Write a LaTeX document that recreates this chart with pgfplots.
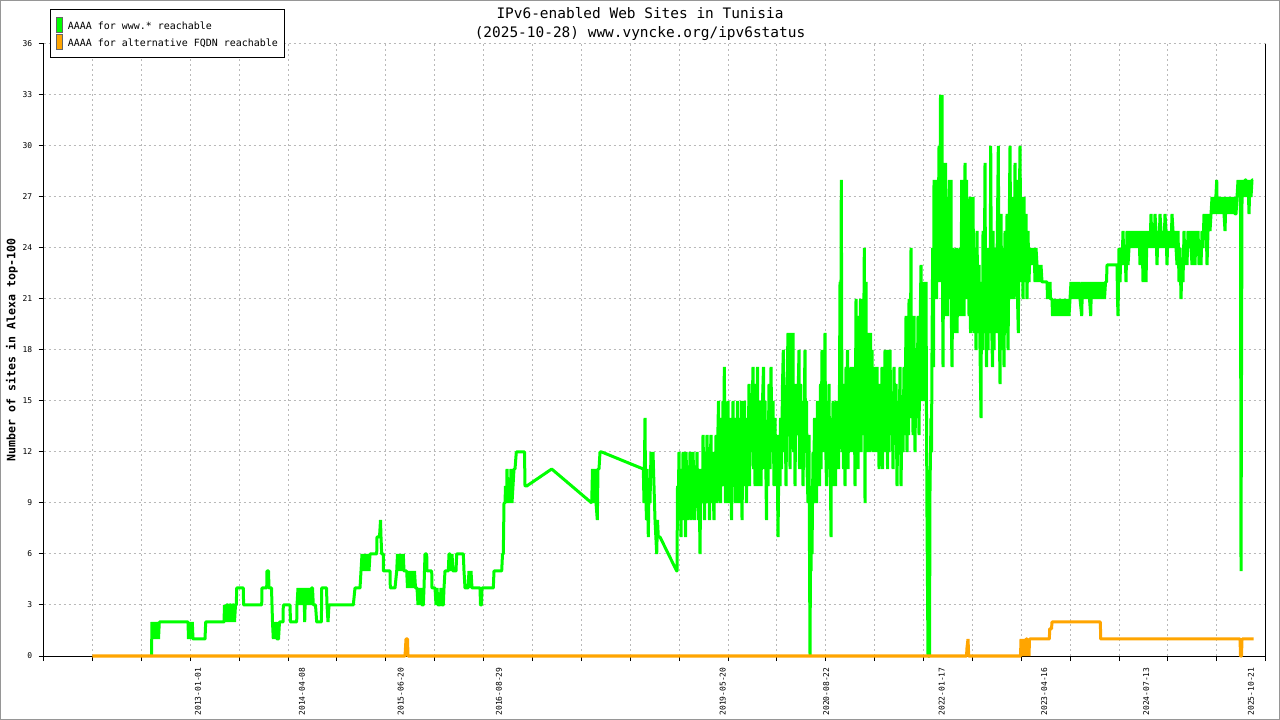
\documentclass[border=0pt]{standalone}
\usepackage{fontspec}
\setmonofont{DejaVu Sans Mono}
\usepackage{pgfplots}
\pgfplotsset{compat=1.18}
\definecolor{lgreen}{RGB}{0,255,0}
\definecolor{lorange}{RGB}{255,165,0}
\definecolor{framegray}{RGB}{150,150,150}
\definecolor{gridgray}{RGB}{185,185,185}
\begin{document}
\begin{tikzpicture}
\useasboundingbox (0,0) rectangle (1280bp,720bp);
\fill[white] (0,0) rectangle (1280bp,720bp);
\draw[framegray, line width=1bp] (0.5bp,0.5bp) rectangle (1279.5bp,719.5bp);
\begin{axis}[
  at={(43.7bp,64bp)}, anchor=south west,
  scale only axis, width=1222bp, height=612bp,
  xmin=43.7, xmax=1265.7, ymin=0, ymax=36,
  clip=false,
  axis x line*=bottom, axis y line*=left,
  axis line style={black, line width=1bp},
  xtick={43.7,92.58,141.46,190.34,239.22,288.1,336.98,385.86,434.74,483.62,532.5,581.38,630.26,679.14,728.02,776.9,825.78,874.66,923.54,972.42,1021.3,1070.18,1119.06,1167.94,1216.82,1265.7},
  xticklabels={},
  ytick={0,3,...,36},
  tick align=outside, major tick length=5bp,
  tick style={black, line width=1bp},
  grid=major,
  major grid style={gridgray, dash pattern=on 2bp off 3bp, line width=1bp},
  /pgf/number format/assume math mode=true,
  ticklabel style={font=\ttfamily\fontsize{8}{9}\selectfont},
  yticklabel style={xshift=-3bp},
  extra x ticks={198,302,400.7,498.9,722.7,826.3,941.8,1044.1,1146.3,1251},
  extra x tick labels={2013-01-01,2014-04-08,2015-06-20,2016-08-29,2019-05-20,2020-08-22,2022-01-17,2023-04-16,2024-07-13,2025-10-21},
  extra x tick style={grid=none, major tick length=0pt, tick label style={yshift=-8bp, rotate=90, anchor=east}},
  ylabel={Number of sites in Alexa top-100},
  every axis y label/.style={at={(axis description cs:-0.02594,0.5)}, rotate=90, anchor=center, font=\ttfamily\bfseries\fontsize{11.6}{13}\selectfont},
]
\addplot[lgreen, line width=3bp, line join=bevel] coordinates {
(151.5,0)(152,2)(152.5,1)(153.3,2)(154,1)(154.7,2)(155.5,1)(156.3,2)(157,1)(157.7,2)(158.5,1)(159.3,2)(160,2)(188,2)(188.5,1)(189.3,2)(190,1)(190.7,2)(191.5,1)(192.3,2)(193,1)(205,1)(205.7,2)(224,2)(224.5,3)(225.5,2)(226.5,3)(228,3)(228.5,2)(229.5,3)(231,3)(231.5,2)(232.5,3)(234,3)(234.5,2)(235.5,3)(236.3,3)(236.7,4)(243.3,4)(243.6,3)(261.7,3)(262,4)(266.7,4)(267,5)(268.5,5)(269,4)(271.5,4)(272,3)(272.5,2)(273.3,1)(274,2)(275,1)(276,2)(277,1)(278.5,1)(279.5,2)(283,2)(283.3,3)(290,3)(290.5,2)(296.7,2)(297,3)(298,4)(299,3)(300,4)(301,3)(302,4)(303,3)(304,4)(304.7,2)(305.5,4)(306.5,3)(307.5,4)(308.5,3)(309.5,4)(310.5,3)(311.5,4)(312.5,4)(313.3,3)(315.5,3)(316.7,2)(321.4,2)(321.7,4)(326.5,4)(327,3)(328,2)(329,3)(353.3,3)(355,4)(360,4)(361,5)(362,6)(363,5)(364,6)(365,5)(366,6)(367,5)(368,6)(369,5)(370,6)(376.7,6)(377,7)(379.5,7)(380.5,8)(381,7)(381.7,6)(383.3,6)(383.5,5)(390,5)(390.3,4)(395,4)(396.7,5)(397.5,6)(398.5,5)(399.5,6)(400.5,5)(401.5,6)(402.5,5)(403.3,6)(404,5)(406.7,5)(407.5,4)(408.5,5)(409.5,4)(410.5,5)(411.5,4)(412.5,5)(413.5,4)(414.5,5)(415.5,4)(417,4)(418,3)(419,4)(420,3)(421,4)(422,3)(423.3,3)(424,4)(425,6)(426.7,6)(427,5)(431.7,5)(432,4)(435,4)(436,3)(437,4)(438,3)(440,3)(441,4)(442,3)(443.3,3)(444,4)(445,5)(448.3,5)(449,6)(450,6)(451,5)(452,6)(453,5)(456,5)(456.7,6)(463.3,6)(464,5)(465,4)(468,4)(469,5)(470,4)(471,5)(472,4)(480,4)(480.5,3)(481.5,3)(482,4)(493.3,4)(494,5)(501.7,5)(502.5,6)(503.3,6)(504,9)(505,9)(505.5,10)(506.5,9)(507,11)(508,9)(509,10)(510,9)(511,11)(512,9)(513,10)(514,11)(515,11)(516.3,12)(524.5,12)(525,10)(526.7,10)(551.7,11)(591.7,9)(592.5,11)(593,9)(594,10)(595,11)(596,9)(597.3,8)(598,11)(599,11)(600,12)(601.7,12)(643.3,11)(644,9)(645,14)(645.5,10)(646.5,8)(647,11)(648.3,7)(649,10)(650,9)(651,12)(652,11)(653,12)(653.5,11)(655,8)(656.7,6)(657.5,8)(658.3,7)(660,7)(676.7,5)
(677,5)(677.5,10)(678,8)(679,12)(679.5,9)(680,11)(681,7)(681.5,10)(682.5,8)(683,12)(684,9)(684.5,11)(685.5,7)(686,12)(687,10)(687.5,8)(688.5,11)(689,9)(690,12)(691,8)(691.5,11)(692.5,9)(693,12)(694,10)(694.5,8)(695.5,11)(696,9)(697,12)(697.5,10)(698.5,8)(699,11)(700,6)(700.5,9)(701.5,11)
(702.5,9)(703,13)(704,10)(704.5,8)(705.5,12)(706,9)(707,13)(708,10)(708.5,12)(709.5,8)(710,11)(711,13)(711.5,9)(712.5,12)(713,10)(714,8)(714.5,12)(715.5,10)(716,13)(717,9)
(717.5,12)(718.5,15)(719,10)(720,14)(720.5,9)(721.5,13)(722,11)(723,15)(723.5,10)(724.3,17)(725,12)(725.5,9)(726.5,14)(727,11)
(728,15)(728.5,9)(729.5,13)(730,10)(731,14)(731.5,8)(732.5,12)(733,15)(734,10)(734.5,13)(735.5,9)(736,14)(737,11)(737.5,15)(738.5,9)(739,12)(740,14)(740.5,10)(741.5,15)(742,8)(743,13)(743.5,11)(744.5,15)(745,10)(746,12)(746.5,9)(747.5,14)
(748,11)(749,16)(749.5,10)(750.5,15)(751,12)(752,14)(753,17)(753.5,11)(754.5,15)(755,10)(756,16)(756.5,12)(757.5,17)(758,10)(759,14)(759.5,11)
(760.5,15)(761,10)(762,14)(763.5,17)(764,11)(765,15)(766.5,8)(767,13)(768,10)(769,16)(770,11)(771,17)(772,12)(773,15)(774,10)(775,14)(776,10)(777,13)(778,7)(779,12)(780,10)
(780.5,14)(781.5,11)(782.5,16)(783.3,18)(784,12)(785,15)(786,10)(787,16)(788,19)(788.5,13)(789.5,17)(790,11)(791,19)(792,14)(793,19)(793.5,12)(794.5,15)(795,10)(796,16)(797,13)(798,15)(799,18)(799.5,11)(800.5,16)(801,13)(802,15)(803,10)(804,14)(805,18)(805.5,12)(806.5,15)(807,11)
(808,9)(809,13)(809.5,6)(810,0)(810.5,6)(811,5)(811.5,10)(812,6)(813,12)
(813.5,9)(814.5,14)(815,10)(816,13)(816.5,9)(817.5,15)(818,11)(819,12)(819.5,10)(820.5,16)(821,11)(822,18)(823,12)(824,15)(825,19)(825.5,13)(826.5,10)(827,15)(828,11)(829,16)(829.5,12)(830.5,10)(831,7)(831.5,14)(832.5,10)(833,15)(834,11)(835,14)(835.5,10)(836.5,15)(837,12)(838,14)(838.5,11)(839.5,16)(840,22)
(840.5,13)(841.3,28)(842,12)(842.5,15)
(843.5,11)(844,16)(845,10)(846,17)(846.5,12)(847.5,18)(848,11)(849,15)(850,12)(851,17)(851.5,13)(852.5,16)(853,12)(854,17)(855,10)(856,21)(856.5,13)(857.5,20)(858,11)(859,18)(859.5,14)(860.5,21)(861,12)(862,19)(863,13)(864.3,24)(865,9)(866,22)(866.5,12)(867.5,19)(868,14)(869,17)(869.5,12)(870.5,19)(871,13)(872,18)(873,12)(874,17)(875,14)(876,12)(877,17)
(877.5,12)(878.5,16)(879,11)(880,15)(881,12)(882,17)(882.5,11)(883.5,16)(884,12)(885,18)(886,13)(887,18)(887.5,11)(888.5,16)(889,12)(890,18)(891,13)(892,15)(893,11)(894,17)(895,13)(896,16)(897,10)(898,15)(899,12)(900,17)(901,10)(902,14)(903,12)(904,17)(905,13)(906,20)(907,12)
(907.5,17)(908.5,13)(909,21)(910,14)(911,24)(911.5,15)(912.5,19)(913,13)(914,20)(915,12)(916,18)(917,14)(918,20)(919,13)(920,19)(921,23)(921.5,15)(922.5,20)(923,15)(924,22)(925,17)(926,22)(926.5,14)(927,8)
(928,0)(929.5,0)(930,10)(931,14)(931.5,12)(932,18)
(932.7,24)(933.5,17)(934,28)(935,22)(936,28)(936.5,21)(937.5,26)(938,23)(939,30)(939.5,22)(940.5,33)(941,25)(942,33)(942.5,22)(943,17)(944,29)(944.5,20)(945.5,29)(946,21)(947,27)(947.5,20)(948.5,26)(949.5,28)(950,21)(951,28)(951.5,19)(952,17)(953,24)(954,19)(955,23)(955.5,20)(956.5,24)(957,19)(958,23)(959,20)(960,24)(961,20)(961.7,28)(962.5,21)(963.5,26)(964,20)(965,29)(965.5,22)(966.5,28)(967,21)(968,26)(969,20)(970,27)(970.5,19)(971.5,25)(972,20)(973,27)(974,19)(975,24)(976,18)(977,25)(978,19)(979,23)(980,18)(981,14)(981.5,22)(982.5,18)(983,25)(984,19)(985,29)(985.5,21)(986.5,17)(987,24)(988,18)(989,23)(990,19)(990.7,30)(991.5,20)(992.5,17)(993,25)(994,18)(995,24)(996,19)(997,23)(998.3,30)(999,21)(1000,16)(1001,26)(1002,18)(1003,24)(1004,17)(1005,25)(1006,19)(1007,26)(1008,18)(1009,24)(1010,30)(1011,21)(1012,25)(1013.3,27)(1014,21)(1015,29)(1016,22)(1016.7,28)(1017.5,21)(1018.3,19)(1019,25)(1020,30)(1021,22)(1022,27)(1023,21)(1024,27)(1025,22)(1026,26)(1027,21)(1028,25)(1029,22)(1030,24)(1031,23)(1032,24)(1033,23)(1034,24)(1035,22)(1036,24)(1037,23)(1038,22)(1039,23)(1040,22)(1041,23)(1042,22)
(1047,22)(1047.5,21)(1048.5,22)(1049,21)(1050,22)(1050.5,21)(1052,21)(1052.5,20)(1053.5,21)(1054.5,20)(1055.5,21)(1056.5,20)(1058,21)(1059,20)(1060,21)(1061,20)(1062,21)(1063,20)(1064,21)(1065,20)(1066,21)(1067,20)(1068,21)(1069,20)(1070,21)(1071,22)(1072,21)(1073,22)(1074,21)(1075,22)(1076,21)(1077,22)(1078,21)(1079,22)(1080,21)(1081.7,20)(1082.5,22)(1083.5,21)(1084.5,22)(1085.5,21)(1086.5,22)(1087.5,21)(1088.5,22)(1089.5,21)(1090.7,20)(1091.5,22)(1092.5,21)(1093.5,22)(1094.5,21)(1095.5,22)(1096.5,21)(1097.5,22)(1098.5,21)(1099.5,22)(1100.5,21)(1101.5,22)(1102.5,21)(1103.5,22)(1104.5,21)(1105.5,22)(1106.5,22)(1107,23)(1117,23)(1117.5,21)(1118,20)(1118.5,22)
(1119,24)(1120,22)(1121,24)(1122,23)(1123,25)(1124,23)(1125,24)(1126,22)(1127,25)(1128,23)(1129,24)(1130,25)(1132,24)(1133,25)(1135,24)(1136,25)(1138,24)(1139,25)(1140,23)(1141,24)(1142,25)(1143,22)(1144,25)(1145,24)(1146,22)(1147,25)(1148,24)(1149,25)(1150,24)(1151,26)(1152,24)(1153,25)(1154,24)(1155,26)(1156,25)(1157,23)(1158,25)(1159,24)(1160,26)(1161,25)(1162,24)(1163,25)(1164,24)(1165,26)(1166,25)(1167,23)(1168,25)(1169,24)(1170,25)(1171,24)(1172,26)(1173,25)(1174,24)(1175,25)(1176,24)(1177,23)(1178,25)(1179,22)(1180,24)(1181,21)(1182,23)(1183,22)(1184,25)(1185,23)(1186,24)(1187,23)(1188,25)(1189,24)(1190,25)(1191,24)(1192,23)(1193,25)(1194,24)(1195,23)(1196,25)(1197,24)(1198,25)(1199,23)(1200,24)(1201,23)(1202,25)(1203,24)(1204,26)(1205,25)(1206,26)(1207,23)(1208,25)(1209,26)(1210,25)(1211,26)(1212,27)(1213,26)(1214,27)(1215,26)(1216.7,28)(1217,27)(1218,26)(1219,27)(1220,26)(1221,27)(1222,26)(1223,27)(1224,26)(1225,25)(1226,27)(1227,26)(1228,27)(1229,26)(1230,27)(1231,26)(1232,27)(1233,26)(1234,27)(1235,26)(1236,26)(1237,27)(1238,28)(1239,27)(1240,28)(1240.5,26)(1241,5)(1241.5,17)(1242,27)(1243,28)(1244,27)(1245,28)(1246,28)(1247,27)(1248,28)(1249,26)(1250,28)(1251,27)(1252,28)(1253,28)
};
\addplot[lorange, line width=3bp, line join=bevel] coordinates {
(92.3,0)(405,0)(405.5,0.5)(406,1)(407.5,1)(408,0)(966.5,0)(967,0.5)(968,1)(968.7,0)(1020.5,0)(1021,1)(1021.5,0)(1022,1)(1022.8,0)(1023.5,1)(1024,0)(1024.5,1)(1025.5,0)(1026,1)(1027,1)(1027.3,0)(1028,1)(1029,0)(1029.5,1)(1049.4,1)(1049.6,1.6)(1051.5,1.6)(1052,2)(1100.4,2)(1100.6,1)(1240,1)(1240.5,0)(1241.5,0)(1242,1)(1253.5,1)
};
\draw[black, line width=1bp] (rel axis cs:1,0) -- (rel axis cs:1,1);
\end{axis}
% title
\node[anchor=base, font=\ttfamily\fontsize{14.5}{16}\selectfont] at (640bp,701.7bp) {IPv6-enabled Web Sites in Tunisia};
\node[anchor=base, font=\ttfamily\fontsize{14.5}{16}\selectfont] at (640bp,682.7bp) {(2025-10-28) www.vyncke.org/ipv6status};
% legend
\draw[black, line width=1bp, fill=white] (50bp,710bp) rectangle (284.3bp,662.7bp);
\fill[lgreen, draw=black!60, line width=0.4bp] (56bp,702.7bp) rectangle (62.3bp,687.3bp);
\fill[lorange, draw=black!60, line width=0.4bp] (56bp,685.7bp) rectangle (62.3bp,670.7bp);
\node[anchor=base west, inner sep=0pt, font=\ttfamily\fontsize{10}{11}\selectfont] at (67.7bp,690.7bp) {AAAA for www.* reachable};
\node[anchor=base west, inner sep=0pt, font=\ttfamily\fontsize{10}{11}\selectfont] at (67.7bp,673.3bp) {AAAA for alternative FQDN reachable};
\end{tikzpicture}
\end{document}
